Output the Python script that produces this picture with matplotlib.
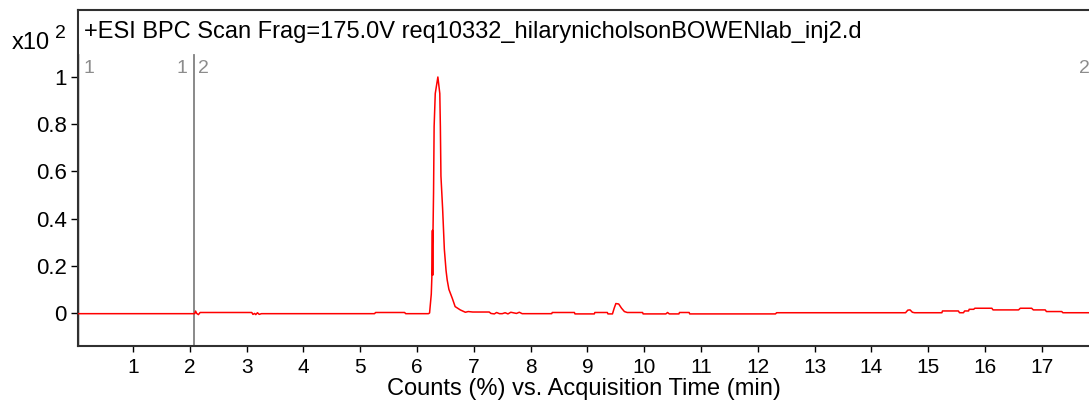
import matplotlib.pyplot as plt

plt.rcParams['font.family'] = ['Liberation Sans', 'DejaVu Sans']

# chromatogram trace, counts in units of x10^2 (%)
time_min = [0.03, 2.085, 2.10, 2.12, 2.15, 2.18, 3.09, 3.11, 3.14, 3.16, 3.19, 3.22, 3.26,
            5.25, 5.27, 5.78, 5.80, 6.20, 6.22, 6.25, 6.26, 6.27, 6.275, 6.28, 6.29, 6.30,
            6.32, 6.366, 6.40, 6.41, 6.42, 6.45, 6.48, 6.51, 6.53, 6.56, 6.62, 6.67, 6.76,
            6.85, 6.90, 6.98, 7.27, 7.30, 7.36, 7.40, 7.45, 7.50, 7.55, 7.60, 7.65, 7.75,
            7.80, 7.85, 8.37, 8.38, 8.77, 8.78, 9.12, 9.13, 9.35, 9.36, 9.44, 9.47, 9.50,
            9.55, 9.60, 9.65, 9.70, 9.97, 9.98, 10.38, 10.41, 10.44, 10.61, 10.62, 10.79,
            10.80, 12.31, 12.33, 14.60, 14.64, 14.68, 14.72, 14.76, 15.24, 15.25, 15.53,
            15.55, 15.62, 15.64, 15.71, 15.72, 15.80, 15.82, 16.12, 16.14, 16.59, 16.62,
            16.82, 16.85, 17.06, 17.08, 17.35, 17.37, 17.83]
counts = [-0.003, -0.003, 0.008, -0.002, -0.007, 0.002, 0.002, -0.006, -0.002, -0.007, 0.001,
          -0.006, -0.003, -0.003, 0.002, 0.002, -0.003, -0.003, 0.0, 0.08, 0.15, 0.35, 0.16,
          0.34, 0.51, 0.79, 0.93, 1.0, 0.93, 0.79, 0.58, 0.44, 0.27, 0.18, 0.14, 0.10, 0.062,
          0.027, 0.013, 0.003, 0.006, 0.004, 0.004, -0.002, -0.004, 0.002, -0.003, -0.003,
          0.001, -0.004, 0.003, -0.002, 0.003, -0.003, -0.003, 0.002, 0.002, -0.004, -0.004,
          0.002, 0.002, -0.004, -0.004, 0.02, 0.04, 0.038, 0.02, 0.006, 0.002, 0.002, -0.004,
          -0.004, 0.002, -0.004, -0.004, 0.002, 0.002, -0.004, -0.004, 0.001, 0.001, 0.012,
          0.013, 0.003, 0.001, 0.001, 0.0085, 0.0085, 0.001, 0.001, 0.0085, 0.0085, 0.0155,
          0.0155, 0.02, 0.02, 0.013, 0.013, 0.02, 0.02, 0.013, 0.013, 0.006, 0.006, 0.001,
          0.001]

# segment markers
marker_times = [2.07]
marker_labels = [(0.12, "1", "left"), (1.96, "1", "right"), (2.14, "2", "left"), (17.65, "2", "left")]

title = "+ESI BPC Scan Frag=175.0V req10332_hilarynicholsonBOWENlab_inj2.d"

fig = plt.figure(figsize=(10.89, 4), dpi=100)
ax = fig.add_axes([78 / 1089, 54 / 400, 1 - 78 / 1089, 336 / 400])

ax.plot(time_min, counts, color="red", linewidth=1.1, zorder=3)

for t in marker_times:
    ax.plot([t, t], [-0.14, 1.093], color="#808080", linewidth=1.3, zorder=2)
ax.plot([0.045, 0.045], [-0.14, 1.093], color="#d0d0d0", linewidth=1.3, zorder=2)
for t, s, ha in marker_labels:
    ax.text(t, 1.035, s, color="#8c8c8c", fontsize=14, ha=ha, va="center", clip_on=False)

ax.text(0.006, 0.935, title, transform=ax.transAxes, fontsize=17, va="center", ha="left")

ax.set_xlim(0.03, 17.83)
ax.set_ylim(-0.14, 1.284)
ax.set_xticks(range(1, 18))
ax.set_yticks([0, 0.2, 0.4, 0.6, 0.8, 1])
ax.set_yticklabels(["0", "0.2", "0.4", "0.6", "0.8", "1"])
ax.tick_params(axis="x", labelsize=15, length=4, width=1, direction="out", pad=4.5)
ax.tick_params(axis="y", labelsize=16, length=5, width=1, direction="out", pad=3)
ax.set_xlabel("Counts (%) vs. Acquisition Time (min)", fontsize=17, labelpad=0.5)

ax.spines["right"].set_visible(False)
for side in ["left", "bottom", "top"]:
    ax.spines[side].set_color("#303030")
    ax.spines[side].set_linewidth(1.5)

fig.text(50 / 1089, 1 - 43 / 400, "x10", fontsize=17, ha="right", va="center")
fig.text(55 / 1089, 1 - 34 / 400, "2", fontsize=14, ha="left", va="center")

fig.savefig("out.png", dpi=100)
